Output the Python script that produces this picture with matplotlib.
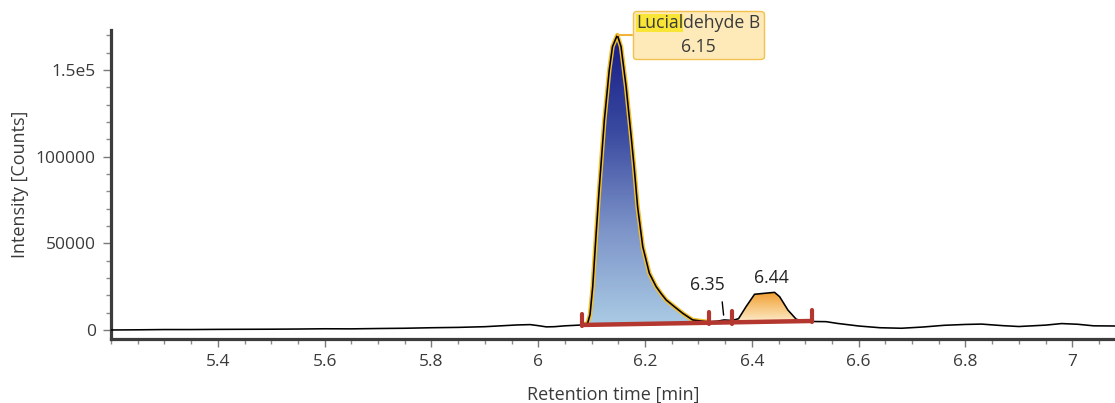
import numpy as np
import matplotlib
matplotlib.use('Agg')
import matplotlib.pyplot as plt
from matplotlib.colors import LinearSegmentedColormap
from matplotlib.ticker import FixedLocator, MultipleLocator, FuncFormatter
from matplotlib.offsetbox import TextArea, HPacker, VPacker, PaddedBox, AnnotationBbox

plt.rcParams['font.family'] = ['Open Sans', 'DejaVu Sans']

# Chromatogram trace: retention time [min] and intensity [counts]
rt = [5.200, 5.250, 5.300, 5.350, 5.400, 5.450, 5.500, 5.550, 5.600, 5.650,
      5.700, 5.750, 5.800, 5.850, 5.900, 5.930, 5.960, 5.985, 6.000, 6.015,
      6.030, 6.050, 6.070, 6.082, 6.0925, 6.097, 6.102, 6.108, 6.1144, 6.1238,
      6.133, 6.139, 6.148, 6.155, 6.1645, 6.174, 6.180, 6.186, 6.1957, 6.208,
      6.2207, 6.230, 6.2395, 6.255, 6.2706, 6.289, 6.3145, 6.320, 6.336, 6.348,
      6.363, 6.375, 6.389, 6.405, 6.425, 6.4425, 6.452, 6.4675, 6.483, 6.4956,
      6.513, 6.539, 6.560, 6.600, 6.640, 6.680, 6.720, 6.760, 6.800, 6.830,
      6.870, 6.900, 6.950, 6.980, 7.010, 7.040, 7.080]
counts = [0, 100, 250, 250, 350, 400, 450, 550, 700, 650,
          850, 1000, 1300, 1500, 1900, 2400, 2900, 3100, 2500, 1800,
          1900, 2400, 2700, 2900, 3900, 9000, 25000, 53800, 82600, 121100,
          150000, 163400, 170100, 163400, 140300, 111500, 92300, 71100, 48000, 32700,
          25000, 21000, 17300, 13400, 9600, 5800, 4800, 4700, 5100, 5800,
          5500, 6500, 13400, 20600, 21200, 21700, 19200, 11500, 6200, 5200,
          4900, 4800, 3800, 2300, 1300, 1000, 1700, 2700, 3200, 3400,
          2500, 2000, 2800, 3700, 3300, 2400, 2300]

# Integration results: peak windows and the drawn baseline
peak_windows = [(6.082, 6.320), (6.320, 6.363), (6.363, 6.513)]
baseline_rt = [6.082, 6.513]
baseline_counts = [2900, 5200]
compound = 'Lucialdehyde B'
highlight = 'Lucial'

x_ticks = [5.4, 5.6, 5.8, 6.0, 6.2, 6.4, 6.6, 6.8, 7.0]
y_ticks = [0, 50000, 100000, 150000]
y_tick_labels = ['0', '50000', '100000', '1.5e5']

rt = np.array(rt)
counts = np.array(counts)

fig = plt.figure(figsize=(11.15, 4.03), dpi=100)
ax = fig.add_axes([0.0996, 0.1588, 0.9004, 0.7668])

text_col = '#3a3a3a'
red = '#b3362f'
gold = '#f2bf30'
fs = 12.7


def peak_segment(window):
    lo, hi = window
    m = (rt >= lo - 1e-9) & (rt <= hi + 1e-9)
    t = rt[m]
    base = np.interp(t, baseline_rt, baseline_counts)
    return t, base, counts[m]


def gradient_fill(t, base, top, colors, z):
    poly = ax.fill_between(t, base, top, facecolor='none', edgecolor='none', zorder=z)
    grad = np.linspace(0, 1, 256).reshape(-1, 1)
    cmap = LinearSegmentedColormap.from_list('peak', colors)
    im = ax.imshow(grad, extent=[t[0], t[-1], base.min(), top.max()], origin='lower',
                   aspect='auto', cmap=cmap, zorder=z, interpolation='bilinear')
    im.set_clip_path(poly.get_paths()[0], ax.transData)


def apex(window):
    t, _, c = peak_segment(window)
    i = int(np.argmax(c))
    return t[i], c[i]


# main peak (selected) in blue with gold outline
t1, b1, c1 = peak_segment(peak_windows[0])
gradient_fill(t1, b1, c1, ['#aacbe4', '#7c93c8', '#3a4aa0', '#171c86'], 2)
ax.plot(t1, c1, color=gold, lw=3.2, zorder=3, solid_capstyle='round')

# small peak at 6.44 in orange
t3, b3, c3 = peak_segment(peak_windows[2])
gradient_fill(t3, b3, c3, ['#fdebc9', '#f7c47a', '#f09b2c'], 2)

# raw trace
ax.plot(rt, counts, color='black', lw=1.15, zorder=4)

# integration baseline and boundary marks
ax.plot(baseline_rt, baseline_counts, color=red, lw=3.2, zorder=5, solid_capstyle='butt')
bounds = sorted({w[0] for w in peak_windows} | {w[1] for w in peak_windows})
bound_base = np.interp(bounds, baseline_rt, baseline_counts)
ax.vlines(bounds, bound_base - 800, bound_base + 6300, color=red, lw=3.0, zorder=5,
          capstyle='round')

# compound label box, matched part of the name highlighted
a1t, a1c = apex(peak_windows[0])
tp = dict(fontsize=fs, color=text_col)
hit = PaddedBox(TextArea(highlight, textprops=tp), pad=0, draw_frame=True,
                patch_attrs=dict(facecolor='#f8e536', edgecolor='none'))
name_row = HPacker(children=[hit, TextArea(compound[len(highlight):], textprops=tp)],
                   sep=0, pad=0, align='baseline')
label = VPacker(children=[name_row, TextArea(f'{a1t:.2f}', textprops=tp)],
                sep=4.2, pad=0, align='center')
ab = AnnotationBbox(label, (a1t, a1c), xybox=(13.5, 0), xycoords='data',
                    boxcoords='offset points', box_alignment=(0, 0.5), pad=0.35,
                    bboxprops=dict(boxstyle='round,pad=0.25,rounding_size=0.25',
                                   fc='#fdeab8', ec='#f3c150', lw=1.0),
                    arrowprops=dict(arrowstyle='-', color='#f0b43a', lw=1.5,
                                    shrinkA=0, shrinkB=0),
                    zorder=7)
ax.add_artist(ab)

# minor peak labels
a2t, a2c = apex(peak_windows[1])
ax.annotate(f'{a2t:.2f}', xy=(a2t, a2c), xytext=(-12, 19), textcoords='offset points',
            ha='center', va='bottom', fontsize=fs, color='#222222', zorder=7,
            arrowprops=dict(arrowstyle='-', color='black', lw=1.0, relpos=(0.9, 0),
                            shrinkA=4, shrinkB=3.5))
a3t, a3c = apex(peak_windows[2])
ax.annotate(f'{a3t:.2f}', xy=(a3t, a3c), xytext=(-2, 4), textcoords='offset points',
            ha='center', va='bottom', fontsize=fs, color='#222222', zorder=7)

# axes
ax.set_xlim(5.2, 7.08)
ax.set_ylim(-5200, 173000)
ax.xaxis.set_major_locator(FixedLocator(x_ticks))
ax.xaxis.set_major_formatter(FuncFormatter(lambda v, p: f'{v:g}'))
ax.xaxis.set_minor_locator(MultipleLocator(0.05))
ax.yaxis.set_major_locator(FixedLocator(y_ticks))
ax.yaxis.set_major_formatter(FuncFormatter(
    lambda v, p: y_tick_labels[p] if p is not None and p < len(y_tick_labels) else ''))
ax.yaxis.set_minor_locator(MultipleLocator(10000))

for s in ['top', 'right']:
    ax.spines[s].set_visible(False)
for s in ['left', 'bottom']:
    ax.spines[s].set_linewidth(2.3)
    ax.spines[s].set_color('#3c3c3c')

ax.tick_params(which='major', length=6, width=1, color='#7a7a7a', labelsize=12.5,
               labelcolor=text_col, pad=5)
ax.tick_params(which='minor', length=3.5, width=1, color='#8a8a8a')

ax.set_xlabel('Retention time [min]', fontsize=13, color=text_col, labelpad=11)
ax.set_ylabel('Intensity [Counts]', fontsize=13, color=text_col, labelpad=5)

fig.savefig('out.png', dpi=100)
